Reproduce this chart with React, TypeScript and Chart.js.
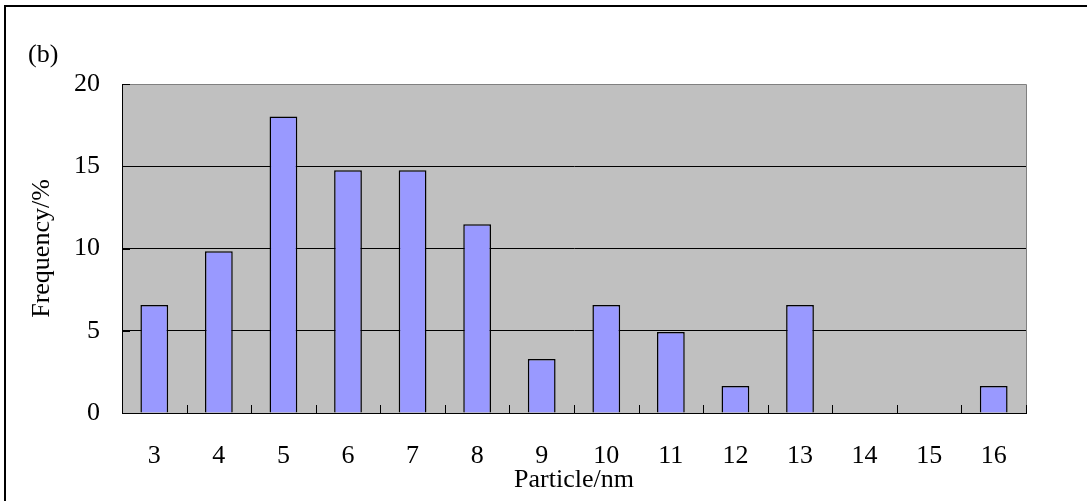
import React, { useEffect, useRef } from 'react';
import { Chart, registerables } from 'chart.js';

Chart.register(...registerables);

const particleSizes = ['3', '4', '5', '6', '7', '8', '9', '10', '11', '12', '13', '14', '15', '16'];
const frequencies = [6.56, 9.84, 18.03, 14.75, 14.75, 11.48, 3.28, 6.56, 4.92, 1.64, 6.56, 0, 0, 1.64];
const yMin = 0;
const yMax = 20;
const yStep = 5;
const panelLabel = '(b)';
const xTitle = 'Particle/nm';
const yTitle = 'Frequency/%';

const FONT = '"Liberation Serif", "Times New Roman", serif';

const decorPlugin = {
  id: 'decor',
  beforeDraw(chart: any) {
    const { ctx, chartArea: a } = chart;
    ctx.save();
    ctx.fillStyle = '#c0c0c0';
    ctx.fillRect(a.left, a.top, a.right - a.left, a.bottom - a.top);
    ctx.restore();
  },
  afterDatasetsDraw(chart: any) {
    const { ctx, chartArea: a } = chart;
    const xs = chart.scales.x;
    const ys = chart.scales.y;
    ctx.save();
    // right border + top border (gray)
    ctx.strokeStyle = '#808080';
    ctx.lineWidth = 1;
    ctx.beginPath();
    ctx.moveTo(a.left, a.top + 0.5);
    ctx.lineTo(a.right + 0.5, a.top + 0.5);
    ctx.lineTo(a.right + 0.5, a.bottom);
    ctx.stroke();
    // inward tick marks on x axis at category boundaries
    ctx.strokeStyle = '#000';
    const n = particleSizes.length;
    const half = (xs.getPixelForValue(1) - xs.getPixelForValue(0)) / 2;
    ctx.beginPath();
    for (let i = 0; i <= n; i++) {
      const x = Math.round(xs.getPixelForValue(i) - half) + 0.5;
      ctx.moveTo(x, a.bottom);
      ctx.lineTo(x, a.bottom - 8);
    }
    // inward tick marks on y axis
    for (let v = yMin; v <= yMax; v += yStep) {
      const y = Math.round(ys.getPixelForValue(v)) + 0.5;
      ctx.moveTo(a.left, y);
      ctx.lineTo(a.left + 8, y);
    }
    ctx.stroke();
    ctx.restore();
  },
  afterDraw(chart: any) {
    const { ctx } = chart;
    ctx.save();
    ctx.fillStyle = '#000';
    ctx.font = `26px ${FONT}`;
    ctx.textBaseline = 'alphabetic';
    ctx.textAlign = 'left';
    ctx.fillText(panelLabel, 28, 62);
    ctx.restore();
  },
};

export default function App() {
  const ref = useRef<HTMLCanvasElement | null>(null);

  useEffect(() => {
    if (!ref.current) return;
    const chart = new Chart(ref.current, {
      type: 'bar',
      data: {
        labels: particleSizes,
        datasets: [
          {
            data: frequencies,
            backgroundColor: '#9999ff',
            borderColor: '#000000',
            borderWidth: 1.5,
            barPercentage: 0.43,
            categoryPercentage: 1,
          },
        ],
      },
      options: {
        responsive: false,
        animation: false,
        layout: { padding: { left: 0, right: 61, top: 84, bottom: 0 } },
        plugins: {
          legend: { display: false },
          tooltip: { enabled: false },
          title: { display: false },
        },
        scales: {
          x: {
            type: 'category',
            offset: true,
            grid: { display: false, drawTicks: false },
            border: { display: true, color: '#000', width: 1 },
            ticks: {
              color: '#000',
              font: { family: FONT, size: 26 },
              padding: 28,
              maxRotation: 0,
              autoSkip: false,
            },
            title: {
              display: true,
              text: xTitle,
              color: '#000',
              font: { family: FONT, size: 26 },
              padding: { top: 0, bottom: 5 },
            },
            afterFit(scale: any) {
              scale.height = 88;
            },
          },
          y: {
            min: yMin,
            max: yMax,
            ticks: {
              stepSize: yStep,
              color: '#000',
              font: { family: FONT, size: 26 },
              padding: 22,
            },
            grid: {
              drawTicks: false,
              color: (c: any) => (c.tick && c.tick.value === yMax ? '#808080' : '#000'),
              lineWidth: 1,
            },
            border: { display: true, color: '#000', width: 1 },
            title: {
              display: true,
              text: yTitle,
              color: '#000',
              font: { family: FONT, size: 26 },
              padding: { top: 27, bottom: 0 },
            },
            afterFit(scale: any) {
              scale.width = 122;
            },
          },
        },
      },
      plugins: [decorPlugin],
    });
    return () => chart.destroy();
  }, []);

  return (
    <div
      style={{
        position: 'absolute',
        left: 0,
        top: 0,
        width: 1087,
        height: 501,
        overflow: 'hidden',
        background: '#fff',
      }}
    >
      <div
        style={{
          position: 'absolute',
          left: 4,
          top: 5,
          width: 1200,
          height: 700,
          border: '2px solid #000',
          boxSizing: 'border-box',
        }}
      />
      <canvas
        ref={ref}
        width={1087}
        height={501}
        style={{ position: 'absolute', left: 0, top: 0, width: 1087, height: 501, display: 'block' }}
      />
    </div>
  );
}
